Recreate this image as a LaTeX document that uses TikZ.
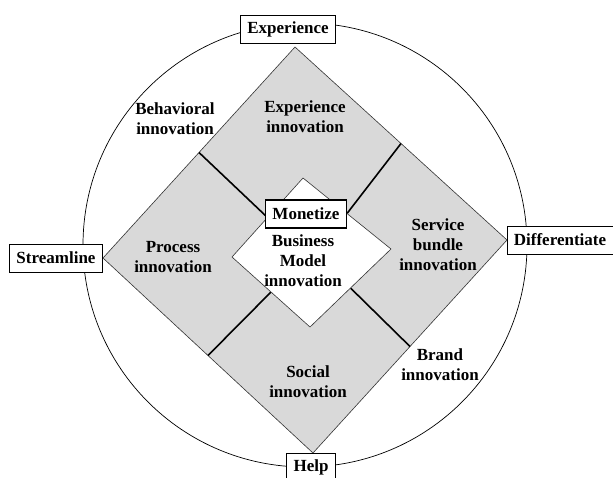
\documentclass[tikz,border=0pt]{standalone}
\usepackage{fontspec}
\setmainfont{Liberation Serif}
\usetikzlibrary{calc}
\definecolor{panelgray}{RGB}{217,217,217}
\newcommand{\diagfont}{\fontsize{17}{20}\selectfont\bfseries}
\tikzset{sidebox/.style={
  rectangle,
  draw,thin,fill=white,
  inner xsep=7pt,inner ysep=0pt,minimum height=28pt,font=\diagfont}}
\tikzset{zonetext/.style={align=center,inner sep=0pt,font=\diagfont}}
\tikzset{divider/.style={line width=1.6pt}}

\begin{document}
\begin{tikzpicture}[x={(1pt,0pt)},y={(0pt,-1pt)}]
  \useasboundingbox (0,0) rectangle (613,477);
  \draw[line width=0.7pt] (305,245) circle[radius=222pt];
  % outer and inner diamonds
  \coordinate (ot) at (295,47);
  \coordinate (or) at (507,240);
  \coordinate (ob) at (313,453);
  \coordinate (ol) at (103,258);
  \coordinate (it) at (303,178);
  \coordinate (ir) at (391,249);
  \coordinate (ib) at (310,327);
  \coordinate (il) at (232,257);
  \filldraw[fill=panelgray,draw=black!80,line width=0.6pt]
    (ot) -- (or) -- (ob) -- (ol) -- cycle;
  \foreach \a/\b/\c/\d in {ot/ol/it/il,ot/or/it/ir,ob/ol/ib/il,ob/or/ib/ir}
    \draw[divider] ($(\a)!.5!(\b)$) -- ($(\c)!.5!(\d)$);
  \filldraw[fill=white,draw=black!80,line width=0.6pt]
    (it) -- (ir) -- (ib) -- (il) -- cycle;
  % texts of the areas
  \node[zonetext] (expinno) at (305,117) {Experience\\innovation};
  \node[zonetext] (behinno) at (175,119) {Behavioral\\innovation};
  \node[zonetext] (procinno) at (173,257) {Process\\innovation};
  \node[zonetext] (servinno) at (438,245) {Service\\bundle\\innovation};
  \node[zonetext] (bminno) at (303,261) {Business\\Model\\innovation};
  \node[zonetext] (socinno) at (308,382) {Social\\innovation};
  \node[zonetext] (brandinno) at (440,365) {Brand\\innovation};
  % boxes on the circle
  \foreach \n/\p/\l in {
      experience/{(288,29)}/Experience,
      streamline/{(56,258)}/Streamline,
      differentiate/{(560,240)}/Differentiate,
      help/{(311,467)}/Help }
    \node[sidebox] (\n) at \p {\l};
  \node[sidebox,line width=1.6pt] (monetize) at (306,214) {Monetize};
\end{tikzpicture}
\end{document}
